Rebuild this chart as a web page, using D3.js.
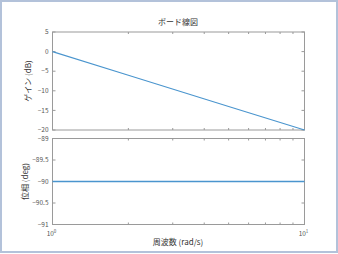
<!DOCTYPE html>
<html>
<head>
<meta charset="utf-8">
<script src="https://cdn.jsdelivr.net/npm/d3@7"></script>
<style>
  html, body { margin: 0; padding: 0; background: #fff; }
  svg text { font-family: 'Noto Sans CJK JP', 'DejaVu Sans', sans-serif; }
</style>
</head>
<body>
<svg id="chart" width="338" height="254"></svg>
<script>
// data for the bode plot (1/s)
const freq = [1, 2, 5, 10];
const gainDb = [0, -6.02, -13.98, -20];
const phaseDeg = [-90, -90, -90, -90];

const gainTicks = [5, 0, -5, -10, -15, -20];
const phaseTicks = [-89, -89.5, -90, -90.5, -91];
const freqMinor = [2, 3, 4, 5, 6, 7, 8, 9];

const titleText = 'ボード線図';
const gainLabel = 'ゲイン (dB)';
const phaseLabel = '位相 (deg)';
const freqLabel = '周波数 (rad/s)';

const svg = d3.select('#chart');
const axisColor = '#9a9a9a';
const textColor = '#555';
const lineColor = '#4a95ce';

// outer frame
svg.append('rect')
  .attr('x', 1).attr('y', 1)
  .attr('width', 336).attr('height', 251)
  .attr('fill', '#fff')
  .attr('stroke', '#b3c2da')
  .attr('stroke-width', 2);

const left = 52.5, right = 304.5;
const x = d3.scaleLog().domain([1, 10]).range([left, right]);

const yGain = d3.scaleLinear().domain([-20, 5]).range([130, 32]);
const yPhase = d3.scaleLinear().domain([-91, -89]).range([224.5, 138.5]);

function drawPanel(y, ticks, xs, ys, label, labelX, lw) {
  const g = svg.append('g');
  const [y0, y1] = y.range();
  const tl = 3;

  g.append('rect')
    .attr('x', left).attr('y', y1)
    .attr('width', right - left).attr('height', y0 - y1)
    .attr('fill', '#fff')
    .attr('stroke', axisColor)
    .attr('stroke-width', 1);

  // y ticks both sides
  ticks.forEach(t => {
    g.append('line').attr('x1', left).attr('x2', left + tl)
      .attr('y1', y(t)).attr('y2', y(t)).attr('stroke', axisColor);
    g.append('line').attr('x1', right).attr('x2', right - tl)
      .attr('y1', y(t)).attr('y2', y(t)).attr('stroke', axisColor);
    g.append('text')
      .attr('x', left - 4).attr('y', y(t))
      .attr('dy', '0.35em')
      .attr('text-anchor', 'end')
      .attr('font-size', 6.5)
      .attr('fill', textColor)
      .text(String(t).replace('-', '\u2212'));
  });

  // x minor ticks top and bottom
  freqMinor.concat([1, 10]).forEach(f => {
    const len = (f === 1 || f === 10) ? tl : 2;
    g.append('line').attr('x1', x(f)).attr('x2', x(f))
      .attr('y1', y0).attr('y2', y0 - len).attr('stroke', axisColor);
    g.append('line').attr('x1', x(f)).attr('x2', x(f))
      .attr('y1', y1).attr('y2', y1 + len).attr('stroke', axisColor);
  });

  const line = d3.line()
    .x((d, i) => x(xs[i]))
    .y((d, i) => y(ys[i]));

  g.append('path')
    .datum(xs)
    .attr('d', line)
    .attr('fill', 'none')
    .attr('stroke', lineColor)
    .attr('stroke-width', lw);

  g.append('text')
    .attr('transform', `translate(${labelX}, ${(y0 + y1) / 2}) rotate(-90)`)
    .attr('text-anchor', 'middle')
    .attr('font-size', 8)
    .attr('fill', '#333')
    .text(label);
}

drawPanel(yGain, gainTicks, freq, gainDb, gainLabel, 31, 1.1);
drawPanel(yPhase, phaseTicks, freq, phaseDeg, phaseLabel, 28, 1.5);

// decade labels 10^0 and 10^1
[[1, '0'], [10, '1']].forEach(([f, e]) => {
  const t = svg.append('text')
    .attr('x', x(f) - 1).attr('y', 236)
    .attr('text-anchor', 'middle')
    .attr('font-size', 6.5)
    .attr('fill', textColor);
  t.append('tspan').text('10');
  t.append('tspan').attr('dy', -3).attr('font-size', 4.5).text(e);
});

svg.append('text')
  .attr('x', 178).attr('y', 25)
  .attr('text-anchor', 'middle')
  .attr('font-size', 8)
  .attr('fill', '#333')
  .text(titleText);

svg.append('text')
  .attr('x', 178).attr('y', 245)
  .attr('text-anchor', 'middle')
  .attr('font-size', 8)
  .attr('fill', '#333')
  .text(freqLabel);
</script>
</body>
</html>
